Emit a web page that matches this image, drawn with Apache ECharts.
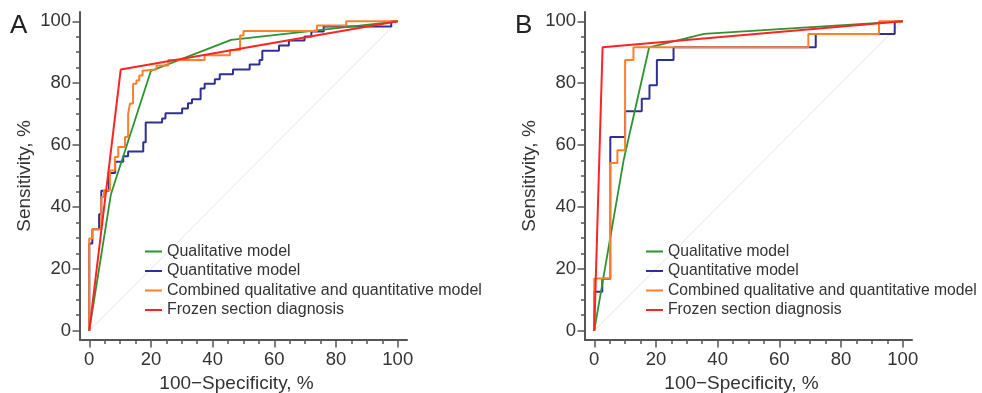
<!DOCTYPE html>
<html>
<head>
<meta charset="utf-8">
<script src="https://cdn.jsdelivr.net/npm/echarts@6/dist/echarts.min.js"></script>
<style>
  html, body { margin: 0; padding: 0; background: #fff; }
  #chart { width: 982px; height: 393px; }
</style>
</head>
<body>
<div id="chart"></div>
<script>
// ROC curves, [100-specificity, sensitivity] in %
const seriesNames = [
  "Qualitative model",
  "Quantitative model",
  "Combined qualitative and quantitative model",
  "Frozen section diagnosis",
];

// panel A
const qualitativeA = [[0, 0], [7, 44], [20, 84], [46, 94], [100, 100]];
const quantitativeA = [
  [0, 0], [0, 28.2], [1.0, 32.8], [3.2, 37.6], [3.9, 45.2], [6.4, 51.0], [8.4, 54.6],
  [11.0, 56.4], [12.6, 57.9], [17.5, 60.9], [18.3, 67.3], [23.6, 68.6], [24.7, 70.3],
  [30.1, 71.8], [32.0, 73.5], [33.3, 74.8], [36.1, 78.3], [37.4, 79.8], [40.7, 81.3],
  [42.3, 82.9], [46.6, 84.4], [52.0, 86.0], [55.2, 87.5], [56.1, 90.5], [61.5, 92.2],
  [64.7, 93.8], [69.8, 95.1], [72.0, 96.7], [76.0, 98.3], [97.9, 100], [100, 100],
];
const combinedA = [
  [0, 0], [0, 29.8], [1.0, 32.8], [3.9, 43.2], [4.8, 45.4], [6.7, 51.8], [8.3, 56.1],
  [9.4, 59.4], [11.6, 62.6], [12.6, 70.1], [13.2, 73.4], [14.2, 79.8], [15.3, 80.9],
  [16.2, 82.5], [17.3, 84.1], [18.0, 84.4], [21.8, 85.7], [25.6, 87.5], [37.4, 89.0],
  [45.6, 90.7], [48.9, 95.4], [50.0, 96.9], [73.8, 98.6], [83.3, 100], [100, 100],
];
const frozenA = [[0, 0], [10.2, 84.4], [100, 100]];

// panel B
const qualitativeB = [[0, 0], [9.5, 55], [17.8, 91.6], [35.6, 95.9], [100, 100]];
const quantitativeB = [
  [0, 0], [0, 12.6], [2.6, 16.8], [5.2, 62.6], [10.0, 70.9], [15.4, 75.0],
  [17.9, 79.3], [20.3, 87.5], [25.7, 91.6], [71.8, 95.9], [97.4, 100], [100, 100],
];
const combinedB = [
  [0, 0], [0, 16.9], [5.1, 54.2], [7.5, 58.3], [10.0, 87.5], [12.7, 91.6],
  [69.4, 95.9], [92.3, 100], [100, 100],
];
const frozenB = [[0, 0], [2.7, 91.6], [100, 100]];

const chanceLine = [[0, 0], [100, 100]];
const majorTicks = [0, 20, 40, 60, 80, 100];
const minorTicks = [0, 5, 10, 15, 20, 25, 30, 35, 40, 45, 50, 55, 60, 65, 70, 75, 80, 85, 90, 95, 100];

const colors = ["#2e9330", "#2f2f94", "#ff7f2a", "#ff2424"];
const font = "'Liberation Sans', Arial, Helvetica, sans-serif";
const axisColor = "#555";
const textColor = "#333";

const grids = [
  { left: 80, top: 12, width: 327, height: 328, outerBoundsMode: "none" },
  { left: 585, top: 12, width: 327, height: 328, outerBoundsMode: "none" },
];

const makeAxes = (dim) => {
  const axes = [];
  const position = dim === "x" ? "bottom" : "left";
  for (let g = 0; g < 2; g++) {
    // minor ticks only
    axes.push({
      type: "value", gridIndex: g, min: -3, max: 103, position, offset: 0,
      splitLine: { show: false },
      axisLine: { show: true, onZero: false, lineStyle: { color: axisColor, width: 2 } },
      axisTick: { show: true, customValues: minorTicks, length: 4, lineStyle: { color: axisColor, width: 1.5 } },
      axisLabel: { show: false },
    });
    // major ticks, labels and name
    axes.push({
      type: "value", gridIndex: g, min: -3, max: 103, position, offset: 0,
      name: dim === "x" ? "100\u2212Specificity, %" : "Sensitivity, %",
      nameLocation: "middle",
      nameGap: dim === "x" ? 27 : 46,
      nameTextStyle: {
        fontSize: 19, color: textColor, fontFamily: font,
        padding: dim === "x" ? [0, 14, 0, 0] : 0,
      },
      splitLine: { show: false },
      axisLine: { show: false, onZero: false },
      axisTick: { show: true, customValues: majorTicks, length: 7.5, lineStyle: { color: axisColor, width: 1.5 } },
      axisLabel: {
        customValues: majorTicks, fontSize: 18.5, color: textColor, fontFamily: font,
        margin: dim === "x" ? 10 : 9,
      },
    });
  }
  return axes;
};

const line = (name, data, color, g, step, width) => ({
  name, type: "line", data, step: step ? "end" : false,
  xAxisIndex: g * 2, yAxisIndex: g * 2,
  symbol: "none", showSymbol: false, silent: true, clip: false,
  lineStyle: { color, width },
  itemStyle: { color },
});

const series = [];
const panels = [
  [qualitativeA, quantitativeA, combinedA, frozenA],
  [qualitativeB, quantitativeB, combinedB, frozenB],
];
panels.forEach((p, g) => {
  series.push(line("chance", chanceLine, "#e6e6e6", g, false, 1));
  series.push(line(seriesNames[1], p[1], colors[1], g, true, 2));
  series.push(line(seriesNames[0], p[0], colors[0], g, false, 1.8));
  series.push(line(seriesNames[2], p[2], colors[2], g, true, 2));
  series.push(line(seriesNames[3], p[3], colors[3], g, false, 2));
});

const legendBase = {
  data: seriesNames,
  orient: "vertical",
  top: 243.5,
  padding: 0,
  icon: "rect",
  itemWidth: 17,
  itemHeight: 2,
  itemGap: 3.5,
  itemTextGap: 5,
  selectedMode: false,
};

const chart = echarts.init(document.getElementById("chart"), null, { renderer: "canvas" });
chart.setOption({
  animation: false,
  backgroundColor: "#fff",
  color: colors,
  grid: grids,
  xAxis: makeAxes("x"),
  yAxis: makeAxes("y"),
  legend: [
    Object.assign({}, legendBase, {
      left: 145,
      textStyle: { fontSize: 16, lineHeight: 16, color: textColor, fontFamily: font },
    }),
    Object.assign({}, legendBase, {
      left: 646,
      textStyle: { fontSize: 15.7, lineHeight: 16, color: textColor, fontFamily: font },
    }),
  ],
  graphic: [
    { type: "text", left: 10, top: 13, style: { text: "A", fontSize: 26, fill: "#222", fontFamily: font } },
    { type: "text", left: 515, top: 13, style: { text: "B", fontSize: 26, fill: "#222", fontFamily: font } },
  ],
  series,
});
</script>
</body>
</html>
